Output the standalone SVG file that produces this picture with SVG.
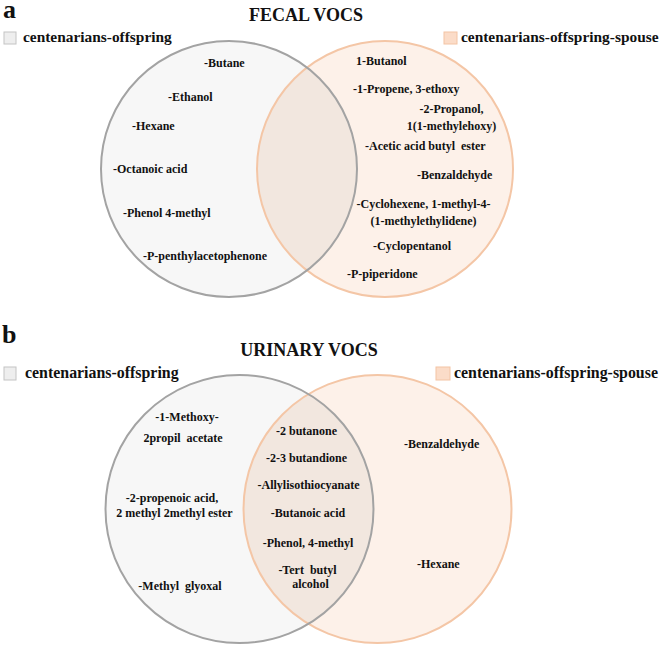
<svg xmlns="http://www.w3.org/2000/svg" width="661" height="646" viewBox="0 0 661 646">
<style>
text{font-family:"Liberation Serif","DejaVu Serif",serif;font-weight:bold;fill:#111}
.lbl{font-size:12px}
.leg{font-size:15.4px}
.legb{font-size:15.9px}
.title{font-size:18px}
.panel{font-size:26px}
.gfill{fill:#f7f7f7}
.ofill{fill:#fdf1e9}
.ifill{fill:#f2e7df}
.gstroke{fill:none;stroke:#a3a3a3;stroke-width:2}
.ostroke{fill:none;stroke:#f4c6a6;stroke-width:2}
.c{text-anchor:middle}
</style>
<defs>
<clipPath id="clipA"><circle cx="229" cy="169" r="128"/></clipPath>
<clipPath id="clipB"><circle cx="239.5" cy="509" r="134"/></clipPath>
</defs>
<rect width="661" height="646" fill="#ffffff"/>

<g id="panel-a">
<text class="panel" x="3" y="18">a</text>
<text class="title c" x="306" y="21">FECAL VOCS</text>
<g id="legend-a-gray"><rect x="4" y="32" width="12" height="12" fill="#eeeeee" stroke="#c4c4c4" stroke-width="1"/><text class="leg" x="23" y="42">centenarians-offspring</text></g>
<g id="legend-a-orange"><rect x="444" y="32" width="13" height="12" fill="#fbdcc8" stroke="#f3c4a4" stroke-width="1"/><text class="leg" x="461" y="42">centenarians-offspring-spouse</text></g>
<g id="venn-a">
<circle class="gfill" cx="229" cy="169" r="128"/>
<circle class="ofill" cx="385" cy="169" r="128"/>
<circle class="ifill" cx="385" cy="169" r="128" clip-path="url(#clipA)"/>
<circle class="ostroke" cx="385" cy="169" r="128"/>
<circle class="gstroke" cx="229" cy="169" r="128"/>
</g>
<g id="a-offspring-set">
<text class="lbl" x="204" y="67">-Butane</text>
<text class="lbl" x="168" y="101">-Ethanol</text>
<text class="lbl" x="132" y="130">-Hexane</text>
<text class="lbl" x="113" y="173">-Octanoic acid</text>
<text class="lbl" x="123" y="217">-Phenol 4-methyl</text>
<text class="lbl" x="143" y="260">-P-penthylacetophenone</text>
</g>
<g id="a-spouse-set">
<text class="lbl" x="356" y="65">1-Butanol</text>
<text class="lbl" x="353" y="93">-1-Propene, 3-ethoxy</text>
<text class="lbl c" x="451.5" y="113">-2-Propanol,</text>
<text class="lbl c" x="451.5" y="130">1(1-methylehoxy)</text>
<text class="lbl" x="365" y="150" xml:space="preserve" style="white-space:pre">-Acetic acid butyl  ester</text>
<text class="lbl" x="417" y="179">-Benzaldehyde</text>
<text class="lbl c" x="423.5" y="208">-Cyclohexene, 1-methyl-4-</text>
<text class="lbl c" x="423.5" y="225">(1-methylethylidene)</text>
<text class="lbl" x="373" y="250">-Cyclopentanol</text>
<text class="lbl" x="347" y="278">-P-piperidone</text>
</g>
</g>

<g id="panel-b">
<text class="panel" x="2" y="343">b</text>
<text class="title c" x="309" y="356">URINARY VOCS</text>
<g id="legend-b-gray"><rect x="4" y="367" width="12" height="13" fill="#eeeeee" stroke="#c4c4c4" stroke-width="1"/><text class="legb" x="25" y="378">centenarians-offspring</text></g>
<g id="legend-b-orange"><rect x="436" y="367" width="14" height="13" fill="#fbdcc8" stroke="#f3c4a4" stroke-width="1"/><text class="legb" x="454" y="378">centenarians-offspring-spouse</text></g>
<g id="venn-b">
<circle class="gfill" cx="239.5" cy="509" r="134"/>
<circle class="ofill" cx="377.5" cy="509" r="134"/>
<circle class="ifill" cx="377.5" cy="509" r="134" clip-path="url(#clipB)"/>
<circle class="ostroke" cx="377.5" cy="509" r="134"/>
<circle class="gstroke" cx="239.5" cy="509" r="134"/>
</g>
<g id="b-offspring-set">
<text class="lbl c" x="187" y="421">-1-Methoxy-</text>
<text class="lbl c" x="183" y="442" xml:space="preserve" style="white-space:pre">2propil  acetate</text>
<text class="lbl c" x="172" y="502">-2-propenoic acid,</text>
<text class="lbl c" x="174.5" y="517">2 methyl 2methyl ester</text>
<text class="lbl c" x="180" y="590" xml:space="preserve" style="white-space:pre">-Methyl  glyoxal</text>
</g>
<g id="b-shared-set">
<text class="lbl c" x="306.5" y="435">-2 butanone</text>
<text class="lbl c" x="306.5" y="462">-2-3 butandione</text>
<text class="lbl c" x="308.5" y="489">-Allylisothiocyanate</text>
<text class="lbl c" x="308" y="517">-Butanoic acid</text>
<text class="lbl c" x="308" y="547">-Phenol, 4-methyl</text>
<text class="lbl c" x="307.5" y="574" xml:space="preserve" style="white-space:pre">-Tert  butyl</text>
<text class="lbl c" x="310.5" y="588">alcohol</text>
</g>
<g id="b-spouse-set">
<text class="lbl" x="404" y="448">-Benzaldehyde</text>
<text class="lbl" x="417" y="568">-Hexane</text>
</g>
</g>
<g id="connectors"></g>
</svg>
